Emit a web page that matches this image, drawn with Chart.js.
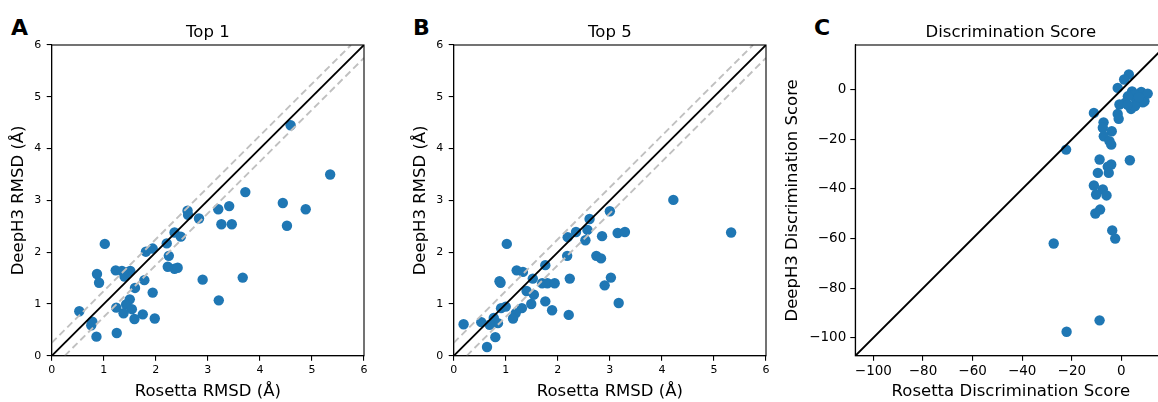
<!DOCTYPE html>
<html lang="en">
<head>
  <meta charset="utf-8">
  <title>DeepH3 vs Rosetta</title>
  <style>
    html, body { margin: 0; padding: 0; background: #fff; overflow: hidden; width: 1158px; height: 402px; }
    canvas { position: absolute; top: 0; }
    .tag { position: absolute; top: 17px; font: bold 22px "DejaVu Sans"; line-height: 1; color: #000; }
  </style>
  <script src="https://cdn.jsdelivr.net/npm/chart.js"></script>
</head>
<body>
  <div class="tag" style="left: 11px">A</div>
  <div class="tag" style="left: 413px">B</div>
  <div class="tag" style="left: 814px">C</div>
  <canvas id="top1" width="400" height="402" style="left: 0"></canvas>
  <canvas id="top5" width="400" height="402" style="left: 402px"></canvas>
  <canvas id="disc" width="400" height="402" style="left: 780px"></canvas>

  <script>
    // Top 1 RMSD (Å)
    const top1Rosetta = [2.61, 2.62, 2.83, 2.36, 2.48, 2.21, 1.02, 1.94, 1.81, 2.25, 2.23, 2.36, 2.42, 1.23, 1.35,
      1.51, 1.47, 1.40, 0.87, 0.91, 1.78, 1.60, 2.90, 1.94, 1.50, 1.43, 0.53, 1.24, 1.54, 1.38, 1.75, 1.59, 1.98,
      0.78, 0.76, 0.86, 1.25, 4.44, 3.20, 3.41, 4.88, 3.26, 3.46, 4.52, 3.67, 3.21, 4.59, 5.35, 3.72];
    const top1DeepH3 = [2.80, 2.72, 2.65, 2.38, 2.30, 2.17, 2.16, 2.07, 2.01, 1.93, 1.72, 1.68, 1.70, 1.65, 1.64,
      1.64, 1.62, 1.53, 1.58, 1.41, 1.46, 1.31, 1.47, 1.22, 1.09, 0.99, 0.86, 0.93, 0.90, 0.82, 0.80, 0.71, 0.72,
      0.66, 0.59, 0.37, 0.44, 2.95, 2.83, 2.89, 2.83, 2.54, 2.54, 2.51, 1.51, 1.07, 4.45, 3.50, 3.16];

    // Top 5 RMSD (Å)
    const top5Rosetta = [3.00, 2.61, 2.57, 2.35, 2.19, 2.53, 2.85, 1.02, 2.18, 2.74, 2.83, 1.76, 1.21, 1.33, 1.52,
      2.23, 3.02, 0.88, 0.90, 1.70, 1.80, 1.94, 1.40, 1.54, 2.90, 1.76, 1.49, 1.00, 0.91, 1.31, 1.89, 1.19, 1.14,
      2.21, 0.19, 0.53, 0.77, 0.85, 0.69, 0.80, 0.64, 4.22, 3.15, 3.29, 5.33, 3.17];
    const top5DeepH3 = [2.79, 2.64, 2.43, 2.39, 2.29, 2.23, 2.31, 2.16, 1.93, 1.93, 1.88, 1.75, 1.65, 1.62, 1.49,
      1.49, 1.51, 1.44, 1.41, 1.40, 1.40, 1.40, 1.25, 1.18, 1.36, 1.05, 1.00, 0.95, 0.92, 0.92, 0.88, 0.82, 0.72,
      0.79, 0.61, 0.65, 0.73, 0.63, 0.60, 0.36, 0.17, 3.01, 2.37, 2.39, 2.38, 1.02];

    // Discrimination scores
    const discRosetta = [3.0, 1.1, -1.5, 4.3, 8.0, 10.6, 9.3, 5.3, 5.9, 2.6, 1.6, -0.8, 3.9, 8.6, -1.5, -1.1, -11.1,
      -7.2, -7.5, -3.9, -7.1, -4.8, -4.1, -22.3, -8.8, 3.4, -4.1, -5.5, -9.5, -5.1, -11.1, -7.5, -10.2, -6.0, -8.6,
      -10.5, -3.7, -2.5, -27.3, -22.1, -8.8, 5.5, 2.5, 7.0];
    const discDeepH3 = [6.2, 4.2, 0.8, -0.6, -0.8, -1.5, -4.6, -1.9, -3.9, -2.6, -5.2, -5.9, -7.7, -5.0, -9.7, -11.7,
      -9.3, -13.1, -15.3, -16.7, -18.7, -20.7, -22.1, -24.1, -28.1, -28.4, -30.1, -31.0, -33.5, -33.5, -38.6, -40.2,
      -42.2, -42.6, -48.3, -49.9, -56.7, -60.0, -62.0, -97.6, -93.0, -6.5, -6.0, -3.0];

    const rmsdTicks = [0, 1, 2, 3, 4, 5, 6];
    const rmsdLim = [0, 6];
    const discTicks = [-100, -80, -60, -40, -20, 0];
    const discLim = [-107.3, 18.1];
    const band = 0.25; // dashed lines at y = x ± band

    const FONT = '"DejaVu Sans"';
    const BLUE = '#1f77b4';

    // top/right spines + panel title
    const frame = {
      id: 'frame',
      afterDraw(chart, args, opts) {
        const { ctx, chartArea: a } = chart;
        ctx.save();
        ctx.strokeStyle = '#000';
        ctx.lineWidth = 1.1;
        ctx.strokeRect(a.left, a.top, a.right - a.left, a.bottom - a.top);
        ctx.fillStyle = '#000';
        ctx.font = '16.5px ' + FONT;
        ctx.textAlign = 'center';
        ctx.textBaseline = 'alphabetic';
        ctx.fillText(opts.text, (a.left + a.right) / 2, a.top - 7.7);
        ctx.restore();
      }
    };

    const pts = (xs, ys) => xs.map((x, i) => ({ x, y: ys[i] }));
    const fmt = v => String(v).replace('-', '\u2212');

    function refLine(data, color, dash) {
      return {
        type: 'line', data, borderColor: color, borderWidth: 1.9, borderDash: dash,
        pointRadius: 0, fill: false, order: 0
      };
    }

    function axis(lim, ticks, title, tickSize, fit, titlePad, tickPad) {
      return {
        type: 'linear', min: lim[0], max: lim[1],
        afterBuildTicks: s => { s.ticks = ticks.map(v => ({ value: v })); },
        afterFit: fit,
        ticks: { font: { family: FONT, size: tickSize }, color: '#000', padding: tickPad, autoSkip: false, maxRotation: 0, callback: fmt },
        grid: { drawOnChartArea: false, tickLength: 5, color: '#000', lineWidth: 1.1 },
        border: { display: true, color: '#000', width: 1.1 },
        title: { display: true, text: title, color: '#000', font: { family: FONT, size: 16.5 }, padding: titlePad }
      };
    }

    function panel(id, cfg) {
      new Chart(document.getElementById(id), {
        type: 'scatter',
        data: {
          datasets: cfg.lines.concat([{
            type: 'scatter', data: cfg.points, backgroundColor: BLUE, borderWidth: 0,
            pointRadius: 5.2, pointHoverRadius: 5.2, order: 1
          }])
        },
        options: {
          responsive: false,
          animation: false,
          layout: { padding: { top: 45, right: cfg.padRight, left: 0, bottom: 0 } },
          plugins: { legend: { display: false }, tooltip: { enabled: false }, frame: { text: cfg.title } },
          scales: {
            x: axis(cfg.lim, cfg.ticks, cfg.xTitle, cfg.tickSize, s => { s.height = 46.2; }, { top: 0, bottom: 0 }, 3),
            y: axis(cfg.lim, cfg.ticks, cfg.yTitle, cfg.tickSize, s => { s.width = cfg.yWidth; }, { top: cfg.yTitlePad, bottom: 0 }, cfg.yTickPad)
          }
        },
        plugins: [frame]
      });
    }

    function rmsdLines() {
      const [lo, hi] = rmsdLim;
      return [
        refLine([{ x: lo, y: lo }, { x: hi, y: hi }], '#000', []),
        refLine([{ x: lo, y: lo + band }, { x: hi - band, y: hi }], '#c0c0c0', [7, 4]),
        refLine([{ x: lo + band, y: lo }, { x: hi, y: hi - band }], '#c0c0c0', [7, 4])
      ];
    }

    panel('top1', {
      title: 'Top 1', points: pts(top1Rosetta, top1DeepH3), lines: rmsdLines(),
      lim: rmsdLim, ticks: rmsdTicks, tickSize: 11, padRight: 36, yWidth: 51.7, yTitlePad: 9, yTickPad: 5.5,
      xTitle: 'Rosetta RMSD (Å)', yTitle: 'DeepH3 RMSD (Å)'
    });

    panel('top5', {
      title: 'Top 5', points: pts(top5Rosetta, top5DeepH3), lines: rmsdLines(),
      lim: rmsdLim, ticks: rmsdTicks, tickSize: 11, padRight: 36, yWidth: 51.7, yTitlePad: 9, yTickPad: 5.5,
      xTitle: 'Rosetta RMSD (Å)', yTitle: 'DeepH3 RMSD (Å)'
    });

    panel('disc', {
      title: 'Discrimination Score', points: pts(discRosetta, discDeepH3),
      lines: [refLine([{ x: discLim[0], y: discLim[0] }, { x: discLim[1], y: discLim[1] }], '#000', [])],
      lim: discLim, ticks: discTicks, tickSize: 13.5, padRight: 13.7, yWidth: 75.3, yTitlePad: 3, yTickPad: 4,
      xTitle: 'Rosetta Discrimination Score', yTitle: 'DeepH3 Discrimination Score'
    });
  </script>
</body>
</html>
